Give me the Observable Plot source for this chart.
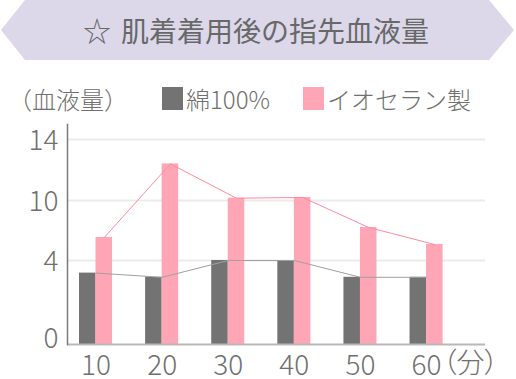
<!DOCTYPE html>
<html><head><meta charset="utf-8">
<script src="https://cdn.jsdelivr.net/npm/d3@7"></script>
<script src="https://cdn.jsdelivr.net/npm/@observablehq/plot@0.6"></script>
<style>
body{margin:0;background:#fff;font-family:"Noto Sans CJK JP",sans-serif;color:#707070}
#wrap{position:relative;width:516px;height:379px;overflow:hidden}
#banner{position:absolute;left:0;top:0;width:516px;height:60px;background:#dcd8ea;clip-path:polygon(25px 0,489px 0,514px 30px,489px 60px,25px 60px,1px 30px)}
.tt{position:absolute;top:15px;font-size:28px;line-height:30px;white-space:nowrap;color:#686868}
.lg{position:absolute;top:86px;font-size:24px;line-height:26px;white-space:nowrap;color:#707070;font-weight:300}
.sw{position:absolute;top:87px;width:21px;height:23px}
#chart{position:absolute;left:0;top:115px}
#chart svg text{font-feature-settings:"palt";font-weight:300}
</style></head>
<body><div id="wrap">
<div id="banner"></div>
<div class="tt" style="left:83px">☆</div>
<div class="tt" style="left:121px">肌着着用後の指先血液量</div>
<div class="lg" style="left:8px">（血液量）</div>
<div class="sw" style="left:162px;background:#737373"></div>
<div class="lg" style="left:186px">綿100%</div>
<div class="sw" style="left:303px;background:#ffa6b6"></div>
<div class="lg" style="left:327px">イオセラン製</div>
<div id="chart"></div>
</div>
<script>
const minutes = ["10","20","30","40","50","60"];
const cotton = [3.4, 3.2, 4.0, 4.0, 3.2, 3.2];
const ioceran = [6.3, 12.4, 10.15, 10.2, 7.3, 5.6];
const yTicks = [0, 4, 10, 14];
const xUnit = "（分）";

const rows = minutes.map((m, i) => ({minute: m, cotton: cotton[i], ion: ioceran[i]}));
const bw = 33.05;
const font = "Noto Sans CJK JP";

const chart = Plot.plot({
  width: 516, height: 264,
  marginLeft: 67, marginRight: 31, marginTop: 9, marginBottom: 35,
  style: {fontFamily: font, color: "#707070", background: "transparent", overflow: "visible"},
  x: {type: "band", domain: minutes, range: [79, 442.6], paddingInner: 0.5, paddingOuter: 0, round: false, axis: null},
  y: {type: "linear", domain: [0, 4, 10, 14, 15], range: [229, 145, 85, 24, 9], axis: null},
  marks: [
    Plot.ruleY(yTicks.filter(d => d > 0), {stroke: "#ebebeb", strokeWidth: 2}),
    Plot.barY(rows, {x: "minute", y: "cotton", fill: "#737373", insetRight: bw / 2}),
    Plot.barY(rows, {x: "minute", y: "ion", fill: "#ffa6b6", insetLeft: bw / 2}),
    Plot.line(rows, {x: "minute", y: "cotton", stroke: "#a0a0a0", strokeWidth: 1}),
    Plot.line(rows, {x: "minute", y: "ion", stroke: "#ff8aa0", strokeWidth: 1, dx: bw / 4}),
    Plot.ruleY([0], {stroke: "#b8b8b8", strokeWidth: 2}),
    Plot.frame({anchor: "left", stroke: "#7a7a7a", strokeWidth: 1.5}),
    Plot.axisY(yTicks.filter(d => d > 0), {tickSize: 0, tickPadding: 9, fontSize: 28, dy: 2, label: null}),
    Plot.axisY([0], {tickSize: 0, tickPadding: 9, fontSize: 28, dy: -5, label: null}),
    Plot.axisX(minutes, {tickSize: 0, tickPadding: 11, fontSize: 28, label: null}),
    Plot.text([xUnit], {x: () => "60", frameAnchor: "bottom", dy: 28, dx: 16, textAnchor: "start", fontSize: 28})
  ]
});
document.getElementById("chart").appendChild(chart);
</script>
</body></html>
